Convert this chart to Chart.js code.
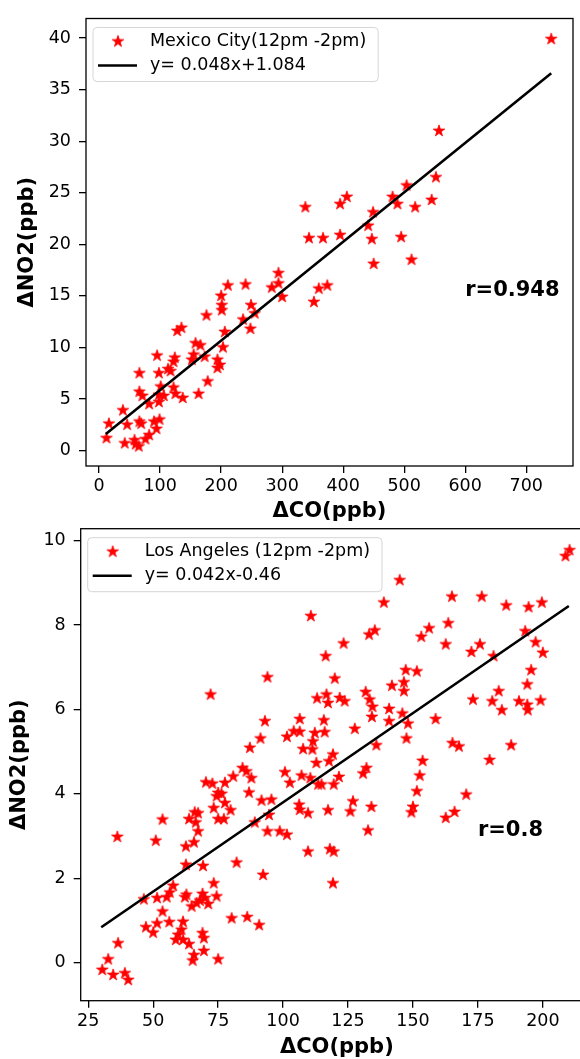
<!DOCTYPE html>
<html>
<head>
<meta charset="utf-8">
<script src="https://cdn.jsdelivr.net/npm/chart.js@4.4.1/dist/chart.umd.min.js"></script>
<style>
html, body { margin: 0; padding: 0; background: #fff; overflow: hidden; width: 580px; height: 1059px; }
canvas { position: absolute; left: 0; }
#mx { top: 0; }
#la { top: 510px; }
</style>
</head>
<body>
<canvas id="mx" width="580" height="530"></canvas>
<canvas id="la" width="600" height="549"></canvas>
<script>
// Mexico City (upper panel)
const mexicoCO = [344, 367, 294, 211, 240, 283, 294, 300, 360, 352, 374, 200, 201, 201, 249, 255, 236, 248, 176, 128,
  135, 206, 203, 158, 166, 155, 173, 152, 124, 122, 95, 113, 117, 98, 66, 194, 198, 194, 178, 163,
  101, 98, 122, 125, 137, 106, 66, 71, 82, 98, 39, 16, 12, 46, 66, 69, 90, 99, 94, 82,
  76, 42, 58, 60, 65, 741, 557, 552, 504, 406, 395, 481, 489, 518, 545, 449, 441, 395, 447, 495,
  450, 512, 338]
const mexicoNO2 = [20.6, 20.6, 17.2, 16.0, 16.1, 15.8, 16.2, 14.9, 15.7, 14.4, 16.0, 15.0, 14.1, 13.6, 14.1, 13.3, 12.7, 11.8, 13.1, 11.6,
  11.9, 11.5, 10.0, 10.4, 10.2, 9.3, 9.1, 8.8, 9.0, 8.6, 9.2, 7.9, 7.7, 7.5, 7.5, 8.8, 8.3, 8.0, 6.7, 5.5,
  6.2, 5.4, 6.1, 5.5, 5.1, 5.3, 5.7, 5.3, 4.5, 4.7, 3.9, 2.6, 1.2, 2.5, 2.8, 2.6, 2.8, 3.0, 2.1, 1.5,
  1.1, 0.7, 1.0, 0.6, 0.4, 39.9, 31.0, 26.5, 25.7, 24.6, 23.9, 24.6, 23.9, 23.6, 24.3, 23.1, 21.8, 20.9, 20.5, 20.7,
  18.1, 18.5, 23.6]
const mexicoFitCO = [11, 741]
const mexicoFitNO2 = [1.6, 36.6]
const mexicoLegend = ['Mexico City(12pm -2pm)', 'y= 0.048x+1.084']
const mexicoR = 'r=0.948'
const mexicoRAt = [600, 15]
const mexicoXTicks = [0, 100, 200, 300, 400, 500, 600, 700]
const mexicoYTicks = [0, 5, 10, 15, 20, 25, 30, 35, 40]

// Los Angeles (lower panel)
const laCO = [110.7, 116.4, 94, 72.1, 116.7, 113.1, 117.3, 93, 106.4, 115.7, 104.1, 106.4, 112.2, 116, 101.5, 91.3, 111.5, 87.2, 107.7, 111.3,
  208.7, 210.3, 144.9, 138.8, 165, 176.5, 185.9, 194.5, 199.6, 163.6, 156.2, 153.2, 135.3, 133.1, 123.3, 162.6, 172.5, 175.8, 181, 193.2,
  197.2, 200, 119.9, 121.8, 123.7, 131.8, 133.3, 134.4, 147.2, 151.5, 146.5, 146.5, 141.9, 140.8, 134.2, 140.8, 145.9, 148.1, 158.7, 147.5,
  127.6, 135.9, 119.2, 165.2, 167.7, 187.8, 173.1, 180.5, 183, 184.2, 190.8, 194, 194.2, 194, 195.5, 199.1, 179.5, 153.7,
  170.5, 166, 162.6, 152.6, 151.5, 150, 149.4, 132.1, 130.8, 126.9, 125.9, 134, 132.7, 121.5, 117.7, 114.8, 119.5, 117.3, 118, 119.5, 119.2,
  84.4, 85.9, 87.8, 80.8, 77.6, 70.3, 72.8, 75, 74.4, 76.3, 77.6, 73.3, 79.8, 75, 77.2, 66, 67.3, 63.8, 66.4, 67.3,
  65.7, 62.6, 53.6, 36.2, 51, 86.9, 91.7, 95.5, 94.6, 89.1, 94, 98.7, 101.5, 100.7, 102.6, 106.2, 106.4, 109.6, 107.1, 110.5,
  112.8, 113.5, 109.6, 82.1, 92.3, 62.6, 69.2, 73.3, 74.4, 71.2, 69, 69.9, 68, 66.7, 64.8, 62.8, 62.2, 57.7, 56.4, 55.2,
  51.5, 46.4, 53.6, 56.2, 51.5, 47.2, 50, 61.5, 60.9, 59.6, 58.7, 61.5, 63.8, 69, 69.5, 69.5, 65.7, 65.2, 75, 80.2,
  86.2, 90.8, 36.5, 32.7, 30.4, 34.6, 39.1, 40.4]
const laNO2 = [8.21, 7.26, 6.76, 6.35, 6.35, 6.26, 6.15, 5.72, 5.77, 5.74, 5.48, 5.47, 5.44, 5.46, 5.35, 5.31, 5.24, 5.09, 5.06, 5.05,
  9.63, 9.77, 9.06, 8.53, 8.67, 8.67, 8.46, 8.42, 8.53, 8.04, 7.92, 7.72, 7.87, 7.77, 7.56, 7.54, 7.36, 7.54, 7.26, 7.85,
  7.59, 7.34, 6.73, 6.27, 6.19, 6.41, 6.23, 6.06, 6.93, 6.9, 6.64, 6.43, 6.56, 6.01, 5.82, 5.72, 5.9, 5.66, 5.77, 5.31,
  5.54, 5.15, 4.93, 5.2, 5.12, 5.15, 6.23, 6.19, 6.43, 5.98, 6.19, 6.11, 5.98, 6.59, 6.93, 6.21, 4.8, 4.78,
  3.98, 3.57, 3.43, 4.43, 4.06, 3.69, 3.56, 4.61, 4.48, 3.82, 3.58, 3.69, 3.13, 4.4, 4.77, 4.22, 4.22, 3.61, 2.69, 2.63, 1.88,
  4.61, 4.53, 4.37, 4.41, 4.26, 4.27, 4.24, 4.02, 3.94, 4.0, 3.78, 3.66, 3.61, 3.4, 3.4, 3.56, 3.54, 3.4, 3.32, 3.11,
  2.85, 2.75, 3.39, 2.98, 2.89, 4.03, 3.84, 3.86, 3.5, 3.32, 3.11, 3.11, 3.03, 4.51, 4.26, 3.74, 3.62, 3.54, 4.43, 4.37,
  4.73, 4.22, 2.63, 2.37, 2.08, 2.32, 2.29, 1.88, 1.57, 1.39, 1.63, 1.53, 1.47, 1.41, 1.33, 1.61, 1.55, 1.82, 1.66, 1.55,
  1.53, 1.5, 1.21, 0.96, 0.93, 0.84, 0.71, 0.97, 0.78, 0.66, 0.54, 0.54, 0.44, 0.7, 0.58, 0.28, 0.18, 0.05, 0.08, 1.05,
  1.08, 0.89, 0.46, 0.08, -0.17, -0.29, -0.25, -0.41]
const laFitCO = [30, 210]
const laFitNO2 = [0.84, 8.45]
const laLegend = ['Los Angeles (12pm -2pm)', 'y= 0.042x-0.46']
const laR = 'r=0.8'
const laRAt = [175, 3]
const laXTicks = [25, 50, 75, 100, 125, 150, 175, 200]
const laYTicks = [0, 2, 4, 6, 8, 10]

const xTitle = '\u0394CO(ppb)'
const yTitle = '\u0394NO2(ppb)'

Chart.defaults.font.family = '"DejaVu Sans"'
Chart.defaults.color = '#000'

// matplotlib-like filled '*' marker
function makeStar(){
  const c = document.createElement('canvas')
  c.width = 16
  c.height = 16
  const g = c.getContext('2d')
  g.beginPath()
  for (let i = 0; i < 10; i++){
    const r = i % 2 ? 2.35 : 6.1
    const a = -Math.PI / 2 + i * Math.PI / 5
    g.lineTo(8 + r * Math.cos(a), 8 + r * Math.sin(a))
  }
  g.closePath()
  g.fillStyle = '#ff0000'
  g.fill()
  g.strokeStyle = '#ff0000'
  g.lineWidth = 0.8
  g.stroke()
  return c
}
const star = makeStar()

function decor(legend, rText, rAt){
  return {
    id: 'decor',
    afterDraw(chart){
      const {ctx, chartArea: a, scales} = chart
      ctx.save()
      ctx.strokeStyle = '#000'
      ctx.lineWidth = 1.3
      ctx.strokeRect(a.left, a.top, a.right - a.left, a.bottom - a.top)

      ctx.fillStyle = '#000'
      ctx.font = 'bold 21px "DejaVu Sans"'
      ctx.textAlign = 'left'
      ctx.textBaseline = 'alphabetic'
      ctx.fillText(rText, scales.x.getPixelForValue(rAt[0]), scales.y.getPixelForValue(rAt[1]))

      ctx.font = '17.5px "DejaVu Sans"'
      const w = Math.max(...legend.map(t => ctx.measureText(t).width))
      const bx = a.left + 7, by = a.top + 9
      ctx.beginPath()
      ctx.roundRect(bx, by, 57 + w + 12, 54, 4)
      ctx.fillStyle = 'rgba(255,255,255,0.8)'
      ctx.fill()
      ctx.strokeStyle = '#d6d6d6'
      ctx.lineWidth = 1
      ctx.stroke()

      ctx.drawImage(star, bx + 25 - 8, by + 14 - 8)
      ctx.beginPath()
      ctx.moveTo(bx + 5, by + 38)
      ctx.lineTo(bx + 44, by + 38)
      ctx.strokeStyle = '#000'
      ctx.lineWidth = 2.6
      ctx.stroke()

      ctx.fillStyle = '#000'
      ctx.textBaseline = 'middle'
      ctx.fillText(legend[0], bx + 57, by + 14)
      ctx.fillText(legend[1], bx + 57, by + 38)
      ctx.restore()
    }
  }
}

function makeChart(id, p){
  const points = p.x.map((v, i) => ({x: v, y: p.y[i]}))
  const fit = p.fitX.map((v, i) => ({x: v, y: p.fitY[i]}))
  const tickGrid = {drawOnChartArea: false, drawTicks: true, tickLength: 7, color: '#000', lineWidth: 1.3}
  return new Chart(document.getElementById(id), {
    type: 'scatter',
    data: {
      datasets: [
        {label: p.legend[1], type: 'line', data: fit, borderColor: '#000', borderWidth: 2.6,
         pointRadius: 0, fill: false, order: 0},
        {label: p.legend[0], data: points, pointStyle: star, pointRadius: 6, order: 1}
      ]
    },
    options: {
      responsive: false,
      animation: false,
      events: [],
      layout: {padding: p.pad},
      plugins: {legend: {display: false}, tooltip: {enabled: false}},
      scales: {
        x: {
          type: 'linear', min: p.xr[0], max: p.xr[1],
          afterBuildTicks: s => { s.ticks = p.xt.map(v => ({value: v})) },
          afterFit: s => { s.height = p.xh },
          grid: tickGrid,
          border: {display: false},
          ticks: {font: {size: 17.5}, padding: 3, maxRotation: 0, callback: v => String(v)},
          title: {display: true, text: xTitle, font: {size: 21, weight: 'bold', lineHeight: 1},
                  padding: {top: 0, bottom: p.xtp}}
        },
        y: {
          type: 'linear', min: p.yr[0], max: p.yr[1],
          afterBuildTicks: s => { s.ticks = p.yt.map(v => ({value: v})) },
          afterFit: s => { s.width = p.yw },
          grid: tickGrid,
          border: {display: false},
          ticks: {font: {size: 17.5}, padding: 8, callback: v => String(v)},
          title: {display: true, text: yTitle, font: {size: 21, weight: 'bold', lineHeight: 1},
                  padding: {top: p.ytp, bottom: 0}}
        }
      }
    },
    plugins: [decor(p.legend, p.r, p.rAt)]
  })
}

makeChart('mx', {
  x: mexicoCO, y: mexicoNO2, fitX: mexicoFitCO, fitY: mexicoFitNO2,
  legend: mexicoLegend, r: mexicoR, rAt: mexicoRAt, xt: mexicoXTicks, yt: mexicoYTicks,
  xr: [-21.5, 776.7], yr: [-1.5, 41.9],
  pad: {top: 13, right: 0.7, left: 0, bottom: 0}, xh: 64, yw: 86, xtp: 7.5, ytp: 17.5
})

makeChart('la', {
  x: laCO, y: laNO2, fitX: laFitCO, fitY: laFitNO2,
  legend: laLegend, r: laR, rAt: laRAt, xt: laXTicks, yt: laYTicks,
  xr: [22.1, 219.3], yr: [-0.9, 10.28],
  pad: {top: 18.7, right: 6.5, left: 0, bottom: 0}, xh: 58.3, yw: 80.7, xtp: 0.5, ytp: 9.5
})
</script>
</body>
</html>
